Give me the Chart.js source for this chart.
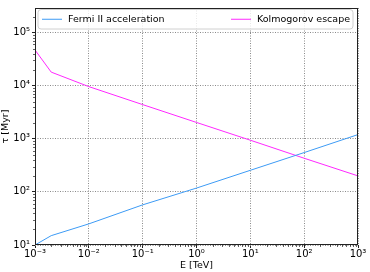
<!DOCTYPE html>
<html>
<head>
<meta charset="utf-8">
<script src="https://cdn.jsdelivr.net/npm/chart.js@4.4.1/dist/chart.umd.min.js"></script>
<style>
html, body { margin: 0; padding: 0; background: #fff; }
#wrap { width: 370px; height: 272px; }
</style>
</head>
<body>
<div id="wrap"><canvas id="tauchart"></canvas></div>
<script>
// energy in TeV and timescales in Myr
const energy = [0.001, 0.002, 0.01, 0.1, 1, 10, 100, 1000]
const fermiTau = [10, 15, 25, 57, 118, 255, 550, 1200]
const kolmoTau = [47000, 18000, 9600, 4400, 2030, 940, 430, 200]
const xTicks = [0.001, 0.01, 0.1, 1, 10, 100, 1000]
const xTickLabels = ["10⁻³", "10⁻²", "10⁻¹", "10⁰", "10¹", "10²", "10³"]
const yTicks = [10, 100, 1000, 10000, 100000]
const yTickLabels = ["10¹", "10²", "10³", "10⁴", "10⁵"]

const font = "'DejaVu Sans', sans-serif"

//minor tick values 2..9 within every decade of a scale
function minorTicks(scale) {
    let out = []
    for (let p = Math.floor(Math.log10(scale.min)); p <= Math.ceil(Math.log10(scale.max)); p++) {
        for (let m = 2; m < 10; m++) {
            let v = m * Math.pow(10, p)
            if (v > scale.min && v < scale.max) out.push(v)
        }
    }
    return out
}

//draws the frame, the minor ticks and the wide legend box
const framePlugin = {
    id: "frame",
    afterDraw(chart) {
        let ctx = chart.ctx
        let a = chart.chartArea
        ctx.save()
        ctx.strokeStyle = "#222"
        ctx.lineWidth = 1
        ctx.strokeRect(a.left + 0.5, a.top + 0.5, a.right - a.left - 1, a.bottom - a.top - 1)

        ctx.lineWidth = 0.7
        ctx.beginPath()
        minorTicks(chart.scales.x).forEach(v => {
            let px = Math.round(chart.scales.x.getPixelForValue(v)) + 0.5
            ctx.moveTo(px, a.bottom)
            ctx.lineTo(px, a.bottom + 2)
        })
        minorTicks(chart.scales.y).forEach(v => {
            let py = Math.round(chart.scales.y.getPixelForValue(v)) + 0.5
            ctx.moveTo(a.left, py)
            ctx.lineTo(a.left - 2, py)
        })
        ctx.stroke()

        // legend, spread across the top like matplotlib mode="expand"
        ctx.lineWidth = 1
        let x0 = a.left + 3, x1 = a.right - 5, y0 = a.top + 1.5, y1 = a.top + 21
        ctx.fillStyle = "rgba(255,255,255,0.8)"
        ctx.strokeStyle = "#d0d0d0"
        ctx.beginPath()
        ctx.roundRect(x0, y0, x1 - x0, y1 - y0, 3)
        ctx.fill()
        ctx.stroke()
        ctx.font = "9.5px " + font
        ctx.textBaseline = "middle"
        let ym = (y0 + y1) / 2
        let ds = chart.data.datasets
        // first entry on the left
        ctx.strokeStyle = ds[0].borderColor
        ctx.beginPath()
        ctx.moveTo(x0 + 4, ym)
        ctx.lineTo(x0 + 24, ym)
        ctx.stroke()
        ctx.fillStyle = "#000"
        ctx.textAlign = "left"
        ctx.fillText(ds[0].label, x0 + 30, ym)
        // second entry on the right
        ctx.textAlign = "right"
        ctx.fillText(ds[1].label, x1 - 3, ym)
        let w = ctx.measureText(ds[1].label).width
        ctx.strokeStyle = ds[1].borderColor
        ctx.beginPath()
        ctx.moveTo(x1 - 3 - w - 26, ym)
        ctx.lineTo(x1 - 3 - w - 6, ym)
        ctx.stroke()
        ctx.restore()
    }
}

let canvas = document.getElementById("tauchart")
let chart = new Chart(canvas, {
    type: "line",
    data: {
        datasets: [
            {
                label: "Fermi II acceleration",
                data: energy.map((e, i) => ({x: e, y: fermiTau[i]})),
                borderColor: "#3d9bf5",
                borderWidth: 1,
                pointRadius: 0,
                fill: false
            },
            {
                label: "Kolmogorov escape",
                data: energy.map((e, i) => ({x: e, y: kolmoTau[i]})),
                borderColor: "#ff28ff",
                borderWidth: 1,
                pointRadius: 0,
                fill: false
            }
        ]
    },
    options: {
        responsive: true,
        maintainAspectRatio: false,
        animation: false,
        layout: { padding: { top: 3, right: 12, left: 0, bottom: 0 } },
        plugins: {
            legend: { display: false },
            tooltip: { enabled: false }
        },
        scales: {
            x: {
                type: "logarithmic",
                min: 0.001,
                max: 1000,
                afterBuildTicks: s => { s.ticks = xTicks.map(v => ({value: v})) },
                afterFit: s => { s.height = 27 },
                ticks: {
                    color: "#000",
                    font: { family: font, size: 10 },
                    padding: 0,
                    maxRotation: 0,
                    callback: (v, i) => xTickLabels[i]
                },
                grid: {
                    color: "#8a8a8a",
                    tickColor: "#222",
                    tickLength: 3
                },
                border: { display: false, dash: [1, 1.5] },
                title: {
                    display: true,
                    text: "E [TeV]",
                    color: "#000",
                    font: { family: font, size: 9.5 },
                    padding: { top: 0, bottom: 1 }
                }
            },
            y: {
                type: "logarithmic",
                min: 10,
                max: 290000,
                afterBuildTicks: s => { s.ticks = yTicks.map(v => ({value: v})) },
                afterFit: s => { s.width = 35 },
                ticks: {
                    color: "#000",
                    font: { family: font, size: 10 },
                    padding: 2,
                    callback: (v, i) => yTickLabels[i]
                },
                grid: {
                    color: "#8a8a8a",
                    tickColor: "#222",
                    tickLength: 3
                },
                border: { display: false, dash: [1, 1.5] },
                title: {
                    display: true,
                    text: "τ [Myr]",
                    color: "#000",
                    font: { family: font, size: 9.5 },
                    padding: { top: 0, bottom: 0 }
                }
            }
        }
    },
    plugins: [framePlugin]
})
</script>
</body>
</html>
